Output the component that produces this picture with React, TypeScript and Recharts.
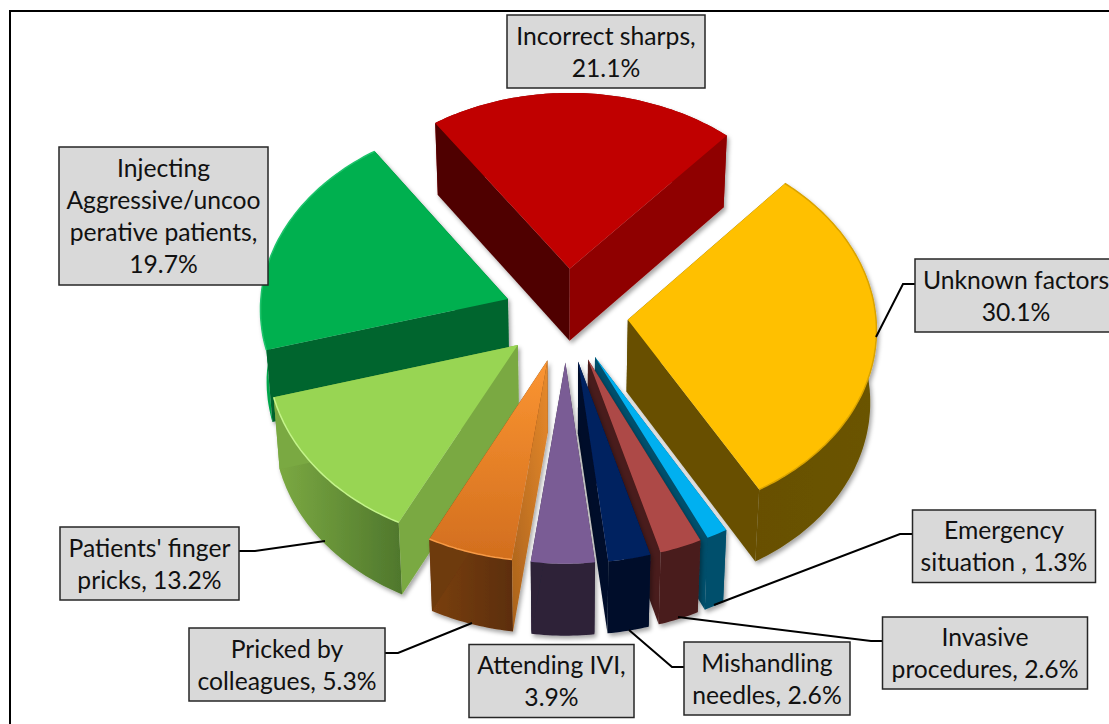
import { Pie, PieChart } from "recharts";

const categories = [
    "Unknown factors",
    "Emergency situation",
    "Invasive procedures",
    "Mishandling needles",
    "Attending IVI",
    "Pricked by colleagues",
    "Patients' finger pricks",
    "Injecting Aggressive/uncooperative patients",
    "Incorrect sharps",
];
const percents = [30.1, 1.3, 2.6, 2.6, 3.9, 5.3, 13.2, 19.7, 21.1];

// wrapped the way the data labels wrap in the picture
const labelLines = [
    ["Unknown factors", "30.1%"],
    ["Emergency", "situation , 1.3%"],
    ["Invasive", "procedures, 2.6%"],
    ["Mishandling", "needles, 2.6%"],
    ["Attending IVI,", "3.9%"],
    ["Pricked by", "colleagues, 5.3%"],
    ["Patients' finger", "pricks, 13.2%"],
    ["Injecting", "Aggressive/uncoo", "perative patients,", "19.7%"],
    ["Incorrect sharps,", "21.1%"],
];

// back to front, slices overlap each other
const drawOrder = [8, 7, 0, 6, 1, 5, 2, 3, 4];

const chartData = categories.map((name, i) => ({ name, value: percents[i] }));

const CX = 566;
const CY = 315;
const RADIUS = 248;
const EXPLODE = 62;
const TILT = 0.757;
const PERSPECTIVE = 5500;
const DEPTH = 72;
const BOTTOM_SHRINK = 0.98;

type SliceStyle = {
    top: string;
    topEnd?: string;
    rim?: string;
    startWall: string;
    startWallEnd?: string;
    endWall: string;
    outerFrom: string;
    outerTo: string;
};

const sliceStyles: SliceStyle[] = [
    { top: "#ffc000", rim: "#d9a300", startWall: "#675000", endWall: "#675000", outerFrom: "#675000", outerTo: "#6b5400" },
    { top: "#00b0f0", startWall: "#004f6c", endWall: "#004f6c", outerFrom: "#004f6c", outerTo: "#004f6c" },
    { top: "#ad4947", startWall: "#4a1b1b", endWall: "#4a1b1b", outerFrom: "#4a1b1b", outerTo: "#4a1b1b" },
    { top: "#002060", startWall: "#000e2b", endWall: "#000e2b", outerFrom: "#000e2b", outerTo: "#000e2b" },
    { top: "#7a5c95", startWall: "#2d2139", endWall: "#2d2139", outerFrom: "#2d2139", outerTo: "#2d2139" },
    { top: "#fb9532", topEnd: "#d26e1e", rim: "#f79a45", startWall: "#e88a2c", startWallEnd: "#a9621c", endWall: "#6e3a10", outerFrom: "#7a4012", outerTo: "#5c2e0a" },
    { top: "#98d553", rim: "#c4f48a", startWall: "#7aa943", endWall: "#7aa943", outerFrom: "#7dab43", outerTo: "#4f772c" },
    { top: "#00b050", rim: "#1fc46c", startWall: "#00652e", endWall: "#00652e", outerFrom: "#00a84c", outerTo: "#008a3e" },
    { top: "#c00000", startWall: "#4f0000", endWall: "#8f0000", outerFrom: "#8f0000", outerTo: "#8f0000" },
];

const labelBoxes = [
    { x: 915, y: 259, w: 202, h: 73 },
    { x: 912.5, y: 510, w: 183, h: 72.5 },
    { x: 882.5, y: 617, w: 205, h: 72 },
    { x: 684, y: 642, w: 166, h: 73 },
    { x: 469, y: 644.5, w: 165, h: 73 },
    { x: 189, y: 628, w: 196, h: 73 },
    { x: 60, y: 527, w: 179, h: 73 },
    { x: 59, y: 147, w: 209, h: 138 },
    { x: 507, y: 15, w: 198, h: 73 },
];

// leader lines, box side first; Attending, Injecting and Incorrect have none
const leaderLines: (number[][] | null)[] = [
    [[915, 284], [903, 284], [876, 337]],
    [[912, 534], [900, 534], [714, 605]],
    [[882, 641], [871, 641], [678, 617]],
    [[684, 667], [672, 667], [629, 630]],
    null,
    [[385, 653], [398, 653], [472, 623]],
    [[239, 551], [255, 551], [325, 541]],
    null,
    null,
];

const project = (wx: number, wy: number, z: number) => {
    const f = PERSPECTIVE / (PERSPECTIVE - wy);
    const s = z ? BOTTOM_SHRINK : 1;
    return [CX + wx * f * s, CY + wy * TILT * f + z * DEPTH];
};

const toPath = (pts: number[][], close = true) =>
    pts.map((p, i) => `${i ? "L" : "M"}${p[0].toFixed(1)},${p[1].toFixed(1)}`).join(" ") + (close ? " Z" : "");

const RAD = Math.PI / 180;

const Slice3D = (props: any) => {
    const { name, outerRadius, startAngle, endAngle, midAngle } = props;
    const index = categories.indexOf(name);
    const style = sliceStyles[index];
    const ax = EXPLODE * Math.cos(midAngle * RAD);
    const ay = -EXPLODE * Math.sin(midAngle * RAD);

    const steps = Math.max(4, Math.ceil(Math.abs(endAngle - startAngle)));
    const arc = (z: number) => {
        const pts: number[][] = [];
        for (let i = 0; i <= steps; i++) {
            const a = (startAngle + ((endAngle - startAngle) * i) / steps) * RAD;
            pts.push(project(ax + outerRadius * Math.cos(a), ay - outerRadius * Math.sin(a), z));
        }
        return pts;
    };
    const apexTop = project(ax, ay, 0);
    const apexBottom = project(ax, ay, 1);
    const topArc = arc(0);
    const bottomArc = arc(1);
    const last = topArc.length - 1;
    const id = `slice-${index}`;

    const startWall = (
        <path d={toPath([apexTop, topArc[0], bottomArc[0], apexBottom])} fill={`url(#${id}-start)`} />
    );
    const endWall = <path d={toPath([apexTop, topArc[last], bottomArc[last], apexBottom])} fill={style.endWall} />;
    // on the left half the end edge faces away from the viewer, on the right the start edge does
    const leftSide = Math.cos(midAngle * RAD) < 0;

    return (
        <g filter="url(#wallShadow)">
            <defs>
                <filter id="wallShadow" x="-10%" y="-10%" width="125%" height="125%">
                    <feDropShadow dx="2" dy="3" stdDeviation="2" floodColor="#000" floodOpacity="0.35" />
                </filter>
                <linearGradient id={`${id}-outer`} x1="0" y1="0" x2="1" y2="0">
                    <stop offset="0%" stopColor={style.outerFrom} />
                    <stop offset="100%" stopColor={style.outerTo} />
                </linearGradient>
                <linearGradient id={`${id}-top`} x1="0" y1="0" x2="0" y2="1">
                    <stop offset="0%" stopColor={style.top} />
                    <stop offset="100%" stopColor={style.topEnd ?? style.top} />
                </linearGradient>
                <linearGradient id={`${id}-start`} x1="1" y1="0" x2="0" y2="1">
                    <stop offset="0%" stopColor={style.startWall} />
                    <stop offset="100%" stopColor={style.startWallEnd ?? style.startWall} />
                </linearGradient>
            </defs>
            <path d={toPath([...topArc, ...[...bottomArc].reverse()])} fill={`url(#${id}-outer)`} />
            {leftSide ? endWall : startWall}
            {leftSide ? startWall : endWall}
            <path d={toPath([apexTop, ...topArc])} fill={`url(#${id}-top)`} />
            {style.rim && <path d={toPath(topArc, false)} fill="none" stroke={style.rim} strokeWidth={1.5} />}
        </g>
    );
};

const DataLabel = (props: any) => {
    const index = categories.indexOf(props.name);
    const box = labelBoxes[index];
    const lines = labelLines[index];
    const leader = leaderLines[index];
    const mid = box.y + box.h / 2;
    return (
        <g>
            {leader && <path d={toPath(leader, false)} fill="none" stroke="#000" strokeWidth={2} />}
            <rect x={box.x} y={box.y} width={box.w} height={box.h} fill="#d9d9d9" stroke="#262626" strokeWidth={1.5} />
            {lines.map((line, i) => (
                <text
                    key={line}
                    x={box.x + box.w / 2}
                    y={mid + (i - (lines.length - 1) / 2) * 32 + 9}
                    textAnchor="middle"
                    fontFamily="Lato, sans-serif"
                    fontSize={24.7}
                    fill="#111"
                >
                    {line}
                </text>
            ))}
        </g>
    );
};

export default function App() {
    return (
        <div style={{ position: "absolute", left: 0, top: 0, width: 1109, height: 724, overflow: "hidden", background: "#fff" }}>
            <div style={{ position: "absolute", left: 9, top: 10, width: 1300, height: 900, border: "2px solid #000" }} />
            <div style={{ position: "absolute", left: 0, top: 0 }}>
                <PieChart width={1109} height={724} margin={{ top: 0, right: 0, bottom: 0, left: 0 }}>
                    {drawOrder.map((slice) => (
                        <Pie
                            key={categories[slice]}
                            data={chartData}
                            dataKey="value"
                            nameKey="name"
                            cx={CX}
                            cy={CY}
                            outerRadius={RADIUS}
                            startAngle={48.5}
                            endAngle={-311.5}
                            isAnimationActive={false}
                            stroke="none"
                            shape={(p: any) => (p.name === categories[slice] ? <Slice3D {...p} /> : <g />)}
                        />
                    ))}
                    {/* labels go on their own pie so they sit above every slice */}
                    <Pie
                        data={chartData}
                        dataKey="value"
                        nameKey="name"
                        cx={CX}
                        cy={CY}
                        outerRadius={RADIUS}
                        startAngle={48.5}
                        endAngle={-311.5}
                        isAnimationActive={false}
                        stroke="none"
                        shape={() => <g />}
                        labelLine={false}
                        label={(p: any) => <DataLabel {...p} />}
                    />
                </PieChart>
            </div>
        </div>
    );
}
